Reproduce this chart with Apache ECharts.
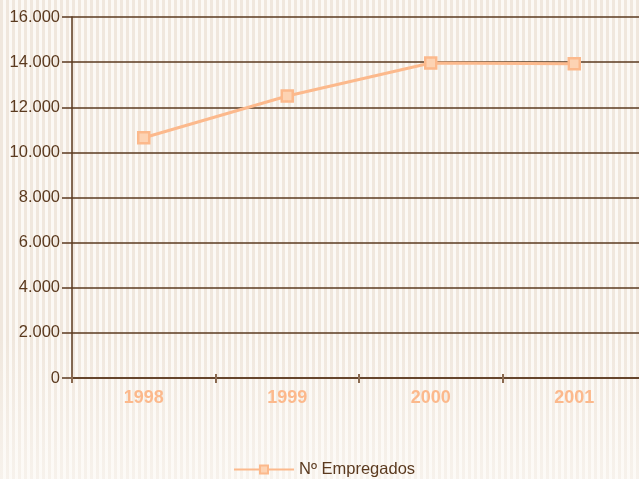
<!DOCTYPE html>
<html><head><meta charset="utf-8">
<script src="https://cdn.jsdelivr.net/npm/echarts@6/dist/echarts.min.js"></script>
<style>
html,body{margin:0;padding:0;overflow:hidden;}
#wrap{position:relative;width:639px;height:479px;overflow:hidden;
background:
 linear-gradient(to bottom, rgba(253,251,248,0) 0%, rgba(253,251,248,0) 70%, rgba(253,251,248,0.55) 100%),
 repeating-linear-gradient(to right, #f0e7dd 0px, #f0e7dd 3px, #fcf9f5 3px, #fcf9f5 6px);}
#chart{width:660px;height:479px;}
</style></head>
<body><div id="wrap"><div id="chart"></div></div>
<script>
const categories = ['1998','1999','2000','2001'];
const empregados = [10650, 12500, 13960, 13930];
const seriesName = 'Nº Empregados';
const yMax = 16000, yStep = 2000;

const brown = '#5b3a1f';
const orange = '#fcb98c';
const chart = echarts.init(document.getElementById('chart'), null, {renderer:'canvas'});
chart.setOption({
  backgroundColor: 'transparent',
  animation: false,
  textStyle: {fontFamily: 'Liberation Sans, Arial, sans-serif'},
  grid: {left: 72, right: 14, top: 17, bottom: 101},
  legend: {
    bottom: -4, left: 228,
    itemWidth: 60, itemHeight: 10, itemGap: 10,
    data: [seriesName],
    textStyle: {color: brown, fontSize: 16.5, fontFamily: 'Liberation Sans, Arial, sans-serif'}
  },
  xAxis: [{
    type: 'category', data: categories, boundaryGap: true,
    axisLine: {lineStyle: {color: brown, width: 1.5}},
    axisTick: {show: true, length: 5, lineStyle: {color: '#8a6a50', width: 2}},
    axisLabel: {color: orange, fontSize: 18, fontWeight: 'bold', margin: 11}
  },{
    type: 'category', data: categories, boundaryGap: true, position: 'bottom',
    axisLine: {show: false},
    axisTick: {show: true, inside: true, length: 4, lineStyle: {color: '#8a6a50', width: 2}},
    axisLabel: {show: false}
  }],
  yAxis: {
    type: 'value', min: 0, max: yMax, interval: yStep,
    axisLine: {show: true, lineStyle: {color: brown, width: 1.5}},
    axisTick: {show: true, length: 10, lineStyle: {color: brown, width: 1.5}},
    splitLine: {show: true, lineStyle: {color: brown, width: 1.5}},
    axisLabel: {color: brown, fontSize: 16.5, margin: 12,
      formatter: v => v === 0 ? '0' : v.toLocaleString('de-DE')}
  },
  series: [{
    name: seriesName, type: 'line', data: empregados,
    symbol: 'rect', symbolSize: 11,
    lineStyle: {color: orange, width: 3},
    itemStyle: {color: '#fdd3b3', borderColor: orange, borderWidth: 2.5}
  }]
});
</script></body></html>
